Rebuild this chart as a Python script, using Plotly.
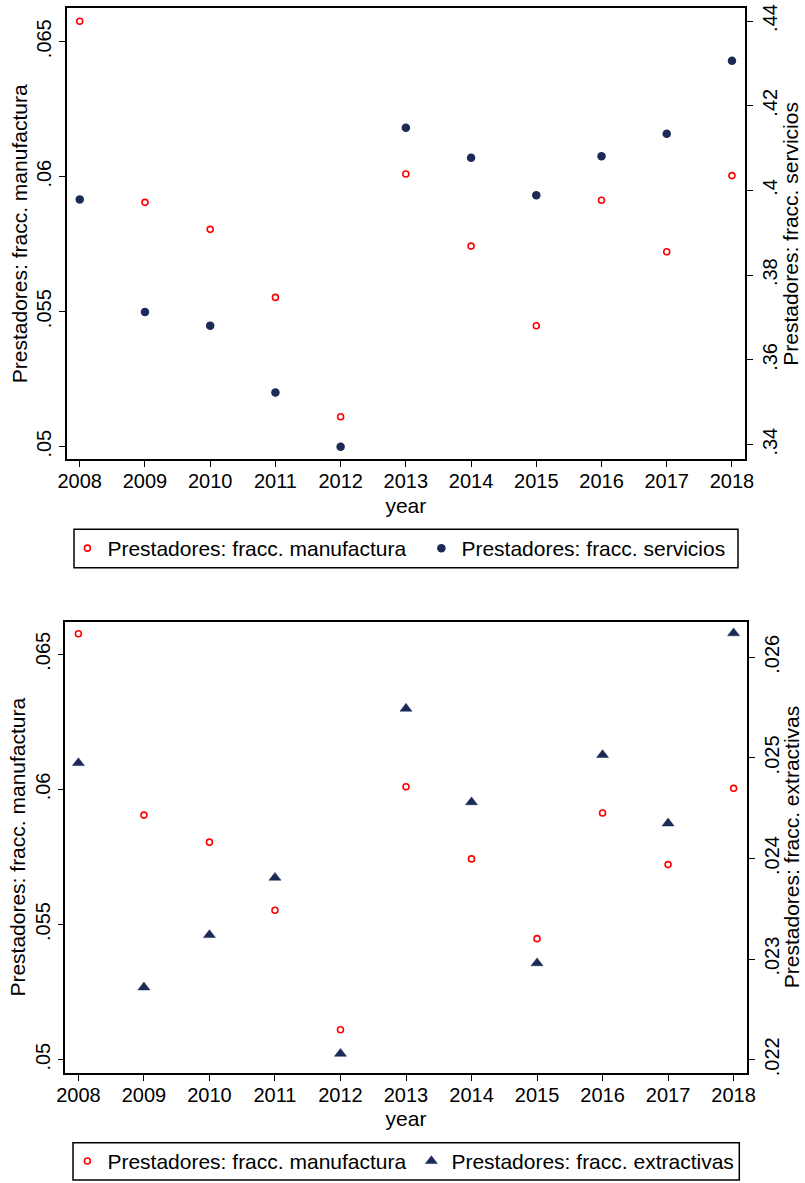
import plotly.graph_objects as go

years = [2008, 2009, 2010, 2011, 2012, 2013, 2014, 2015, 2016, 2017, 2018]
manufactura = [0.06576, 0.05905, 0.05805, 0.05553, 0.05111, 0.06010, 0.05743, 0.05448, 0.05913, 0.05722, 0.06004]
servicios = [0.3979, 0.3713, 0.3681, 0.3523, 0.3395, 0.4148, 0.4077, 0.3989, 0.4081, 0.4134, 0.4306]
extractivas = [0.02495, 0.02272, 0.02324, 0.02381, 0.02206, 0.02549, 0.02456, 0.02296, 0.02503, 0.02435, 0.02624]

year_ticks = years
manuf_ticks = [0.05, 0.055, 0.06, 0.065]
manuf_labels = [".05", ".055", ".06", ".065"]
serv_ticks = [0.34, 0.36, 0.38, 0.40, 0.42, 0.44]
serv_labels = [".34", ".36", ".38", ".4", ".42", ".44"]
extr_ticks = [0.022, 0.023, 0.024, 0.025, 0.026]
extr_labels = [".022", ".023", ".024", ".025", ".026"]

name_manuf = "Prestadores: fracc. manufactura"
name_serv = "Prestadores: fracc. servicios"
name_extr = "Prestadores: fracc. extractivas"

RED = "#ff0000"
NAVY = "#1c2a56"
FONT = "Liberation Sans, Arial, Helvetica, sans-serif"
W, H = 805, 1183

fig = go.Figure()

fig.add_trace(go.Scatter(x=years, y=manufactura, mode="markers", name=name_manuf,
                         xaxis="x", yaxis="y", legend="legend",
                         marker=dict(symbol="circle-open", size=6, color=RED, line=dict(color=RED, width=1.6))))
fig.add_trace(go.Scatter(x=years, y=servicios, mode="markers", name=name_serv,
                         xaxis="x", yaxis="y2", legend="legend",
                         marker=dict(symbol="circle", size=8.5, color=NAVY)))
fig.add_trace(go.Scatter(x=years, y=manufactura, mode="markers", name=name_manuf,
                         xaxis="x2", yaxis="y3", legend="legend2",
                         marker=dict(symbol="circle-open", size=6, color=RED, line=dict(color=RED, width=1.6))))
fig.add_trace(go.Scatter(x=years, y=extractivas, mode="markers", name=name_extr,
                         xaxis="x2", yaxis="y4", legend="legend2",
                         marker=dict(symbol="triangle-up", size=10.5, color=NAVY, line=dict(color=NAVY, width=0.5))))

def px_x(p):
    return p / W

def px_y(p):
    return 1 - p / H

axis_common = dict(showline=True, linecolor="black", linewidth=1.6, ticks="outside",
                   ticklen=6, tickwidth=1.3, tickcolor="black", showgrid=False, zeroline=False,
                   automargin=False, ticklabeloverflow="allow",
                   tickfont=dict(family=FONT, size=20, color="black"))

xcommon = dict(axis_common, range=[2007.8, 2018.2], tickmode="array", tickvals=year_ticks,
               ticktext=[str(y) for y in year_ticks], mirror=True, ticklabelstandoff=-3,
               title=dict(text="year", font=dict(family=FONT, size=21, color="black"), standoff=7))

ycommon = dict(axis_common, tickmode="array", tickangle=-90)

top_dom = [px_y(459.3), px_y(8.3)]
bot_dom = [px_y(1072.7), px_y(621.7)]

title_font = dict(family=FONT, size=21, color="black")

fig.update_layout(
    width=W, height=H,
    margin=dict(l=0, r=0, t=0, b=0, autoexpand=False),
    paper_bgcolor="white", plot_bgcolor="white",
    font=dict(family=FONT, size=21, color="black"),
    xaxis=dict(xcommon, domain=[px_x(66.7), px_x(745)], anchor="y"),
    xaxis2=dict(xcommon, domain=[px_x(65.3), px_x(746.7)], anchor="y3"),
    yaxis=dict(ycommon, domain=top_dom, anchor="x", side="left",
               range=[0.049533, 0.066237], tickvals=manuf_ticks, ticktext=manuf_labels,
               title=dict(text=name_manuf, font=title_font, standoff=0)),
    yaxis2=dict(ycommon, domain=top_dom, anchor="x", overlaying="y", side="right",
                range=[0.33655, 0.443], tickvals=serv_ticks, ticktext=serv_labels),
    yaxis3=dict(ycommon, domain=bot_dom, anchor="x2", side="left",
                range=[0.049519, 0.066207], tickvals=manuf_ticks, ticktext=manuf_labels,
                title=dict(text=name_manuf, font=title_font, standoff=0)),
    yaxis4=dict(ycommon, domain=bot_dom, anchor="x2", overlaying="y3", side="right",
                range=[0.021871, 0.026354], tickvals=extr_ticks, ticktext=extr_labels),
    legend=dict(orientation="h", x=px_x(67.4), xanchor="left", y=px_y(548.5), yanchor="middle",
                entrywidth=309, entrywidthmode="pixels", bgcolor="rgba(0,0,0,0)", borderwidth=0,
                font=dict(family=FONT, size=21, color="black")),
    legend2=dict(orientation="h", x=px_x(67.4), xanchor="left", y=px_y(1161.3), yanchor="middle",
                 entrywidth=299, entrywidthmode="pixels", bgcolor="rgba(0,0,0,0)", borderwidth=0,
                 font=dict(family=FONT, size=21, color="black")),
    annotations=[
        dict(text=name_serv, xref="paper", yref="paper", x=px_x(791), y=(top_dom[0] + top_dom[1]) / 2,
             xanchor="center", yanchor="middle", textangle=-90, showarrow=False, font=title_font),
        dict(text=name_extr, xref="paper", yref="paper", x=px_x(791), y=(bot_dom[0] + bot_dom[1]) / 2,
             xanchor="center", yanchor="middle", textangle=-90, showarrow=False, font=title_font),
    ],
    shapes=[
        dict(type="rect", xref="paper", yref="paper", x0=px_x(74), x1=px_x(738),
             y0=px_y(567.7), y1=px_y(529.3), line=dict(color="black", width=1.5)),
        dict(type="rect", xref="paper", yref="paper", x0=px_x(73), x1=px_x(739.3),
             y0=px_y(1180), y1=px_y(1142.7), line=dict(color="black", width=1.5)),
    ],
)

# remove the browser's default 8px body margin so the figure fills the window exactly
fig.write_html("out.html", config={"displayModeBar": False},
               post_script="document.body.style.margin='0';")
